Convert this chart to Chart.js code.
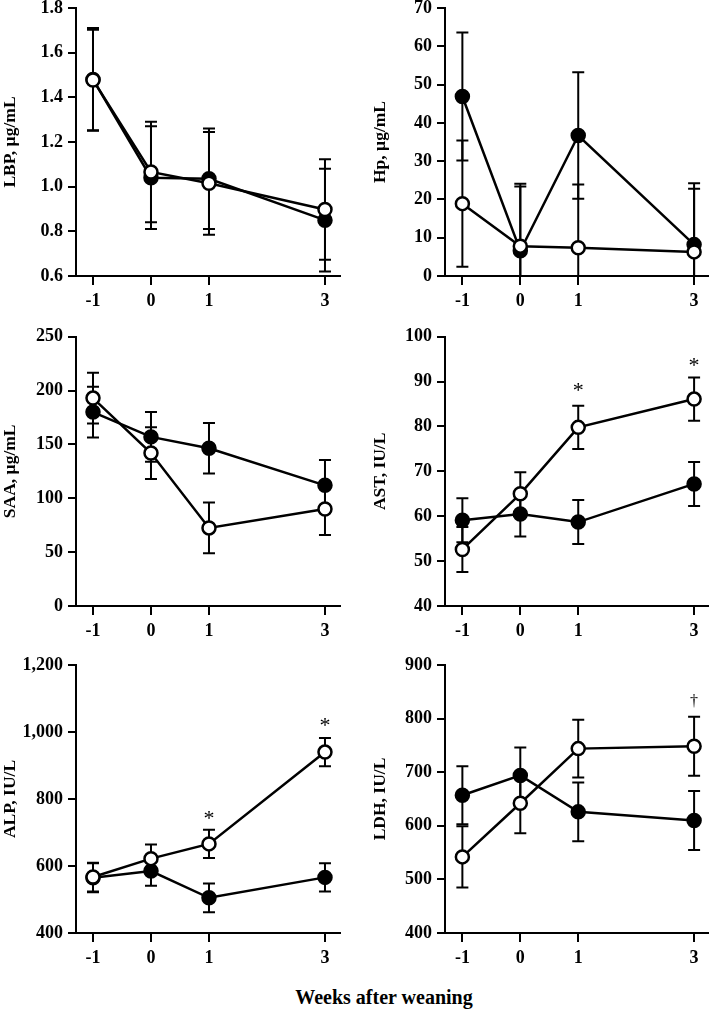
<!DOCTYPE html>
<html lang="en">
<head>
    <meta charset="UTF-8">
    <title>Blood markers after weaning</title>
    <style>
        * {
            margin: 0;
            padding: 0;
            box-sizing: border-box;
        }
        body {
            background: #fff;
            width: 711px;
            height: 1010px;
            position: relative;
            overflow: hidden;
        }
        .panel {
            position: absolute;
        }
        .x-title {
            position: absolute;
            left: 384px;
            top: 986px;
            transform: translateX(-50%);
            white-space: nowrap;
            font-family: 'Liberation Serif', serif;
            font-weight: bold;
            font-size: 20px;
            color: #000;
        }
    </style>
    <script src="https://cdn.jsdelivr.net/npm/chart.js@4.4.1/dist/chart.umd.min.js"></script>
</head>
<body>
    <canvas class="panel" id="lbpChart"></canvas>
    <canvas class="panel" id="hpChart"></canvas>
    <canvas class="panel" id="saaChart"></canvas>
    <canvas class="panel" id="astChart"></canvas>
    <canvas class="panel" id="alpChart"></canvas>
    <canvas class="panel" id="ldhChart"></canvas>
    <div class="x-title">Weeks after weaning</div>

    <script>
        // weeks relative to weaning
        const weeks = [-1, 0, 1, 3];

        // LBP, ug/mL
        const lbpFilled = [1.48, 1.04, 1.035, 0.85];
        const lbpFilledSd = [0.23, 0.23, 0.225, 0.23];
        const lbpOpen = [1.478, 1.066, 1.015, 0.898];
        const lbpOpenSd = [0.225, 0.225, 0.23, 0.225];

        // Hp, ug/mL
        const hpFilled = [46.9, 6.6, 36.7, 8.2];
        const hpFilledSd = [16.7, 16.8, 16.5, 16];
        const hpOpen = [18.9, 7.8, 7.4, 6.3];
        const hpOpenSd = [16.5, 16.3, 16.5, 16.5];

        // SAA, ug/mL
        const saaFilled = [180, 157, 146.5, 112];
        const saaFilledSd = [23.5, 23, 23.4, 23.5];
        const saaOpen = [193, 142, 72.5, 90];
        const saaOpenSd = [23.5, 24, 23.5, 24];

        // AST, IU/L
        const astFilled = [59.1, 60.5, 58.7, 67.2];
        const astFilledSd = [4.9, 5, 4.9, 4.9];
        const astOpen = [52.6, 65, 79.8, 86.1];
        const astOpenSd = [5, 4.8, 4.8, 4.8];

        // ALP, IU/L
        const alpFilled = [565, 585, 505, 566];
        const alpFilledSd = [43, 44, 43, 42];
        const alpOpen = [567, 622, 666, 940];
        const alpOpenSd = [43, 42, 42, 42];

        // LDH, IU/L
        const ldhFilled = [657, 694, 626, 610];
        const ldhFilledSd = [54, 52, 55, 55];
        const ldhOpen = [542, 642, 744, 748.5];
        const ldhOpenSd = [57, 56, 54, 55];

        // significance marks: week, level, symbol
        const astMarks = [[1, 88.6, '*'], [3, 94.1, '*']];
        const alpMarks = [[1, 748, '*'], [3, 1026, '*']];
        const ldhMarks = [[3, 831, '\u2020']];

        const serif = "'Liberation Serif', 'Times New Roman', serif";

        // vertical error bars, drawn before the lines so circles sit on top
        const errorBars = {
            id: 'errorBars',
            beforeDatasetsDraw(chart) {
                const ctx = chart.ctx;
                const xs = chart.scales.x, ys = chart.scales.y;
                const area = chart.chartArea;
                ctx.save();
                ctx.beginPath();
                ctx.rect(area.left, area.top - 20, area.right - area.left, area.bottom - area.top + 20);
                ctx.clip();
                ctx.strokeStyle = '#000';
                ctx.lineWidth = 2;
                chart.data.datasets.forEach(ds => {
                    ds.data.forEach((p, i) => {
                        const x = xs.getPixelForValue(p.x);
                        const hi = ys.getPixelForValue(p.y + ds.sd[i]);
                        const lo = ys.getPixelForValue(p.y - ds.sd[i]);
                        ctx.beginPath();
                        ctx.moveTo(x, hi);
                        ctx.lineTo(x, lo);
                        ctx.moveTo(x - 6, hi);
                        ctx.lineTo(x + 6, hi);
                        if (lo < area.bottom) {
                            ctx.moveTo(x - 6, lo);
                            ctx.lineTo(x + 6, lo);
                        }
                        ctx.stroke();
                    });
                });
                ctx.restore();
            }
        };

        const sigMarks = {
            id: 'sigMarks',
            afterDatasetsDraw(chart, args, opts) {
                const marks = opts.marks || [];
                const ctx = chart.ctx;
                ctx.save();
                ctx.fillStyle = '#000';
                ctx.textAlign = 'center';
                ctx.textBaseline = 'middle';
                marks.forEach(m => {
                    const star = m[2] === '*';
                    ctx.font = (star ? '22px ' : '16px ') + serif;
                    const x = chart.scales.x.getPixelForValue(m[0]);
                    const y = chart.scales.y.getPixelForValue(m[1]);
                    ctx.fillText(m[2], x, y + (star ? 3 : 0));
                });
                ctx.restore();
            }
        };

        function makePanel(id, box, o) {
            const canvas = document.getElementById(id);
            canvas.style.left = box.left + 'px';
            canvas.style.top = box.top + 'px';
            canvas.style.width = box.width + 'px';
            canvas.style.height = box.height + 'px';
            canvas.width = box.width;
            canvas.height = box.height;

            const series = (vals, sd, fill) => ({
                data: vals.map((v, i) => ({x: weeks[i], y: v})),
                sd: sd,
                borderColor: '#000',
                borderWidth: 2.5,
                pointRadius: 6.5,
                pointBorderWidth: 2.5,
                pointBackgroundColor: fill,
                pointBorderColor: '#000'
            });

            new Chart(canvas.getContext('2d'), {
                type: 'line',
                data: {
                    // first dataset is drawn on top
                    datasets: [series(o.open, o.openSd, '#fff'), series(o.filled, o.filledSd, '#000')]
                },
                options: {
                    responsive: false,
                    animation: false,
                    layout: {
                        autoPadding: false,
                        padding: {top: box.padTop, right: box.padRight, left: 0, bottom: 0}
                    },
                    plugins: {
                        legend: {display: false},
                        tooltip: {enabled: false},
                        sigMarks: {marks: o.marks}
                    },
                    scales: {
                        x: {
                            type: 'linear',
                            min: box.xMin,
                            max: box.xMax,
                            afterBuildTicks: s => { s.ticks = weeks.map(v => ({value: v})); },
                            afterFit: s => {
                                s.height = box.xAxisH;
                                s.paddingLeft = 0;
                                s.paddingRight = 0;
                            },
                            grid: {drawOnChartArea: false, color: '#000', lineWidth: 2, tickLength: 9},
                            border: {color: '#000', width: 2},
                            ticks: {
                                color: '#000',
                                padding: 6,
                                maxRotation: 0,
                                font: {family: serif, weight: 'bold', size: 18},
                                callback: v => String(v)
                            }
                        },
                        y: {
                            min: o.yMin,
                            max: o.yMax,
                            afterFit: s => {
                                s.width = box.yAxisW;
                                s.paddingTop = 0;
                                s.paddingBottom = 0;
                            },
                            grid: {drawOnChartArea: false, color: '#000', lineWidth: 2, tickLength: 8},
                            border: {color: '#000', width: 2},
                            ticks: {
                                stepSize: o.step,
                                color: '#000',
                                padding: 5,
                                font: {family: serif, weight: 'bold', size: 18},
                                callback: o.fmt
                            },
                            title: {
                                display: true,
                                text: o.title,
                                color: '#000',
                                padding: {top: box.titlePad, bottom: 0},
                                font: {family: serif, weight: 'bold', size: 17.5}
                            }
                        }
                    }
                },
                plugins: [errorBars, sigMarks]
            });
        }

        const one = v => v.toFixed(1);
        const int = v => String(v);
        const thousands = v => v.toLocaleString('en-US');

        const leftCol = {left: 0, width: 355, yAxisW: 76, padRight: 15, xMin: -1.293, xMax: 3.259, titlePad: 0};
        const rightCol = {left: 355, width: 356, yAxisW: 90, padRight: 3, xMin: -1.30, xMax: 3.24, titlePad: 15};
        const rows = [
            {top: 0, height: 316, padTop: 8, xAxisH: 40},
            {top: 326, height: 320, padTop: 10.7, xAxisH: 40},
            {top: 655, height: 318, padTop: 10, xAxisH: 40}
        ];
        const cell = (col, row) => Object.assign({}, col, row);

        makePanel('lbpChart', cell(leftCol, rows[0]), {
            open: lbpOpen, openSd: lbpOpenSd, filled: lbpFilled, filledSd: lbpFilledSd,
            yMin: 0.6, yMax: 1.8, step: 0.2, fmt: one, title: 'LBP, \u00b5g/mL', marks: []
        });
        makePanel('hpChart', cell(rightCol, rows[0]), {
            open: hpOpen, openSd: hpOpenSd, filled: hpFilled, filledSd: hpFilledSd,
            yMin: 0, yMax: 70, step: 10, fmt: int, title: 'Hp, \u00b5g/mL', marks: []
        });
        makePanel('saaChart', cell(leftCol, rows[1]), {
            open: saaOpen, openSd: saaOpenSd, filled: saaFilled, filledSd: saaFilledSd,
            yMin: 0, yMax: 250, step: 50, fmt: int, title: 'SAA, \u00b5g/mL', marks: []
        });
        makePanel('astChart', cell(rightCol, rows[1]), {
            open: astOpen, openSd: astOpenSd, filled: astFilled, filledSd: astFilledSd,
            yMin: 40, yMax: 100, step: 10, fmt: int, title: 'AST, IU/L', marks: astMarks
        });
        makePanel('alpChart', cell(leftCol, rows[2]), {
            open: alpOpen, openSd: alpOpenSd, filled: alpFilled, filledSd: alpFilledSd,
            yMin: 400, yMax: 1200, step: 200, fmt: thousands, title: 'ALP, IU/L', marks: alpMarks
        });
        makePanel('ldhChart', cell(rightCol, rows[2]), {
            open: ldhOpen, openSd: ldhOpenSd, filled: ldhFilled, filledSd: ldhFilledSd,
            yMin: 400, yMax: 900, step: 100, fmt: int, title: 'LDH, IU/L', marks: ldhMarks
        });
    </script>
</body>
</html>
